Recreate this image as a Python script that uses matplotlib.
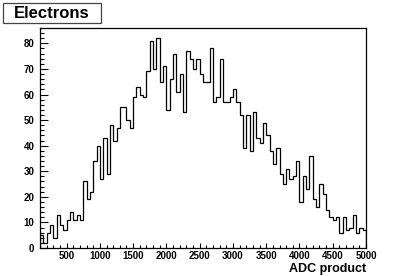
import numpy as np
import matplotlib.pyplot as plt
from matplotlib.ticker import MultipleLocator
from matplotlib.patches import Rectangle

plt.rcParams['font.family'] = ['Liberation Sans', 'DejaVu Sans']
plt.rcParams['font.weight'] = 'bold'

# histogram: 50-wide bins from 100 to 5000
bin_lo = 100
bin_w = 50
counts = [5, 2, 6, 9, 4, 13, 9, 7, 11, 14, 11, 13, 11,
          26, 19, 22, 34, 40, 27, 43, 29, 48, 42, 47, 55, 55, 50, 47, 59, 63, 60, 59, 69,
          81, 70, 82, 65, 71, 54, 66, 76, 61, 68, 53, 77, 74, 70, 74, 68, 65, 65, 78, 57,
          59, 74, 57, 57, 59, 62, 57, 52, 39, 52, 38, 53, 43, 41, 49,
          44, 38, 33, 39, 29, 25, 31, 27, 28, 34, 18, 28, 23, 36, 19, 16, 25, 21, 15,
          12, 11, 12, 6, 12, 7, 8, 13, 6, 8, 7]
edges = bin_lo + bin_w * np.arange(len(counts) + 1)

fig = plt.figure(figsize=(4.07, 2.76), dpi=100)
ax = fig.add_axes([40/407, 1-248/276, 326/407, 220/276])
ax.stairs(counts, edges, baseline=0, color='black', lw=0.9)

ax.set_xlim(100, 5000)
ax.set_ylim(0, 86)
ax.xaxis.set_major_locator(MultipleLocator(500))
ax.xaxis.set_minor_locator(MultipleLocator(100))
ax.yaxis.set_major_locator(MultipleLocator(10))
ax.yaxis.set_minor_locator(MultipleLocator(2))
ax.tick_params(which='both', direction='in', top=False, right=False, labelsize=7, width=0.8)
ax.tick_params(axis='x', which='major', length=3.8, pad=2)
ax.tick_params(axis='x', which='minor', length=1.9)
ax.tick_params(axis='y', which='major', length=5.5, pad=4)
ax.tick_params(axis='y', which='minor', length=2.8)
for s in ax.spines.values():
    s.set_linewidth(0.9)

fig.text(366/407, 1-272/276, 'ADC product', ha='right', va='baseline',
         fontsize=9, fontweight='bold')

fig.patches.append(Rectangle((3/407, 1-23/276), 98/407, 20/276, transform=fig.transFigure,
                             facecolor='white', edgecolor='#444444', lw=0.9))
fig.text(52/407, 1-13/276, 'Electrons', ha='center', va='center',
         fontsize=12, fontweight='bold')

fig.savefig('out.png', dpi=100)
